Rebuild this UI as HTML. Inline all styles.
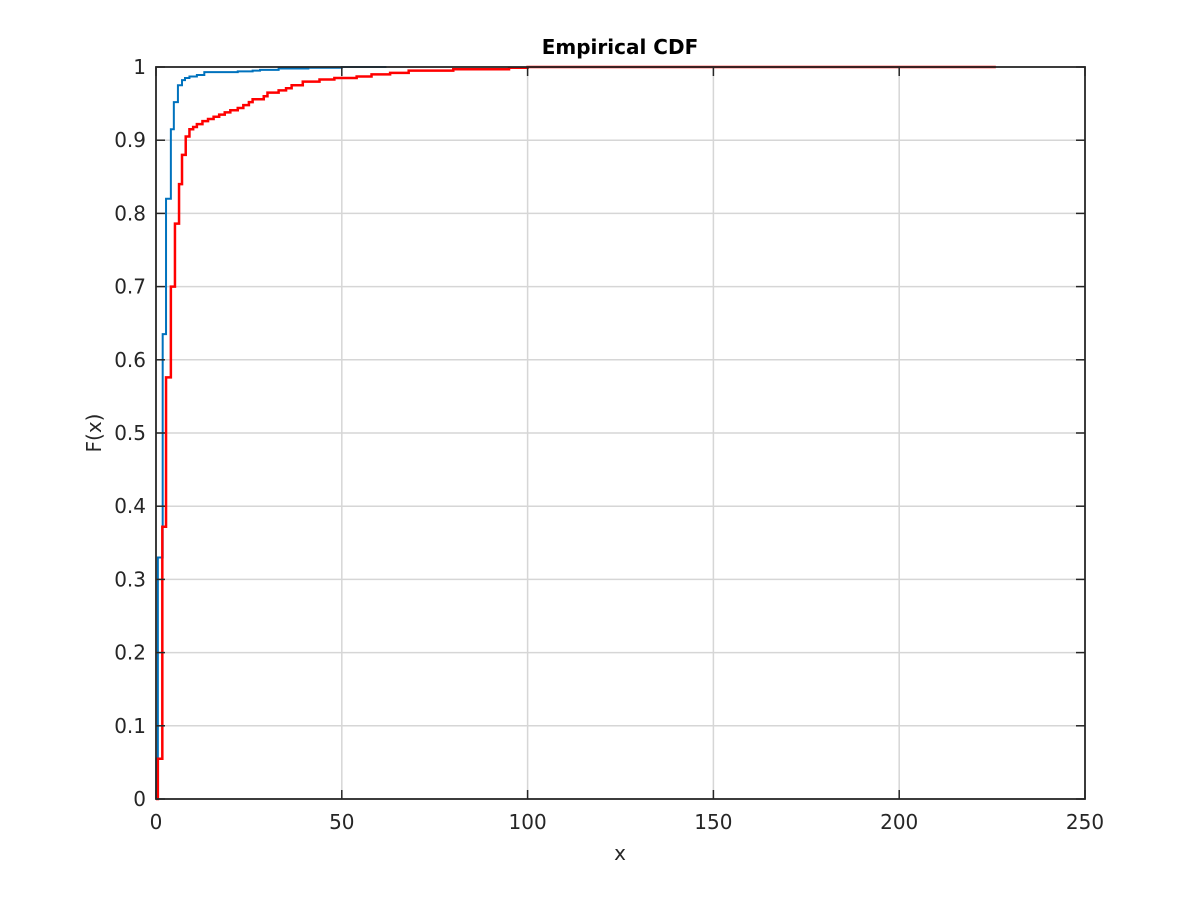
<!DOCTYPE html>
<html><head><meta charset="utf-8"><style>
body{margin:0;background:#fff;}
svg text{font-family:"DejaVu Sans","Liberation Sans",sans-serif;}
</style></head><body>
<svg id="chart" width="1200" height="900" xmlns="http://www.w3.org/2000/svg">
<rect width="1200" height="900" fill="#fff"/>
<g id="grid"></g>
<g id="series"></g>
<g id="axes"></g>
<text x="620" y="54" text-anchor="middle" font-size="20" font-weight="bold">Empirical CDF</text>
<text x="620" y="860" text-anchor="middle" font-size="20" fill="#262626">x</text>
<text x="101" y="433" text-anchor="middle" font-size="20" fill="#262626" transform="rotate(-90 101 433)">F(x)</text>
</svg>
<script>
const xTicks=[0,50,100,150,200,250];
const yTicks=[0,0.1,0.2,0.3,0.4,0.5,0.6,0.7,0.8,0.9,1];
const yTickLabels=["0","0.1","0.2","0.3","0.4","0.5","0.6","0.7","0.8","0.9","1"];
const blueX=[0,0.1,0.5,1.8,2.7,4,4.8,5.9,7,7.8,9,11,13,22,26,28,33,41,50,62];
const blueY=[0,0.055,0.33,0.635,0.82,0.915,0.952,0.975,0.982,0.985,0.987,0.989,0.993,0.994,0.995,0.996,0.998,0.999,1,1];
const redX=[0,0.5,1.7,2.7,4,5.1,6.2,7,8,9,10,11,12.5,14,15.5,17,18.5,20,22,23.5,25,26,29,30,33,35,36.5,39.5,44,48,54,58,63,68,80,95,100,226];
const redY=[0,0.055,0.372,0.576,0.70,0.786,0.84,0.88,0.905,0.915,0.918,0.922,0.926,0.929,0.932,0.935,0.938,0.941,0.944,0.948,0.952,0.956,0.96,0.965,0.968,0.971,0.975,0.98,0.983,0.985,0.987,0.99,0.992,0.995,0.997,0.999,1,1];
const X0=156,X1=1085,Y0=799,Y1=67;
const sx=v=>X0+(v-0)/(250-0)*(X1-X0);
const sy=v=>Y0-v*(Y0-Y1);
const NS="http://www.w3.org/2000/svg";
function mk(tag,attrs,parent){const e=document.createElementNS(NS,tag);for(const k in attrs)e.setAttribute(k,attrs[k]);parent.appendChild(e);return e;}
const grid=document.getElementById('grid'),axes=document.getElementById('axes'),ser=document.getElementById('series');
xTicks.forEach((t,i)=>{
  const x=sx(t);
  if(i>0&&i<xTicks.length-1){const g=mk('line',{x1:x,x2:x,y1:Y1,y2:Y0,stroke:'#d6d6d6','stroke-width':1.5},grid);
  
  }
  mk('line',{x1:x,x2:x,y1:Y0,y2:Y0-9,stroke:'#262626','stroke-width':1.5},axes);
  mk('line',{x1:x,x2:x,y1:Y1,y2:Y1+9,stroke:'#262626','stroke-width':1.5},axes);
  const tx=mk('text',{x:x,y:Y0+30,'text-anchor':'middle','font-size':20,fill:'#262626'},axes);
  tx.textContent=t;
  
  
});
yTicks.forEach((t,i)=>{
  const y=sy(t);
  if(i>0&&i<yTicks.length-1){const g=mk('line',{x1:X0,x2:X1,y1:y,y2:y,stroke:'#d6d6d6','stroke-width':1.5},grid);
  
  }
  mk('line',{x1:X0,x2:X0+9,y1:y,y2:y,stroke:'#262626','stroke-width':1.5},axes);
  mk('line',{x1:X1,x2:X1-9,y1:y,y2:y,stroke:'#262626','stroke-width':1.5},axes);
  const tx=mk('text',{x:X0-10,y:y+7,'text-anchor':'end','font-size':20,fill:'#262626'},axes);
  tx.textContent=yTickLabels[i];
  
  
});
const fr=mk('rect',{x:X0,y:Y1,width:X1-X0,height:Y0-Y1,fill:'none',stroke:'#262626','stroke-width':1.8},axes);


function stairs(xs,ys){let d='M'+sx(xs[0])+','+sy(ys[0]);for(let i=1;i<xs.length;i++){d+=' H'+sx(xs[i])+' V'+sy(ys[i]);}return d;}
const b=mk('path',{d:stairs(blueX,blueY),fill:'none',stroke:'#0072bd','stroke-width':2},ser);


const r=mk('path',{d:stairs(redX,redY),fill:'none',stroke:'#ff0000','stroke-width':2.5},ser);


</script>
</body></html>
